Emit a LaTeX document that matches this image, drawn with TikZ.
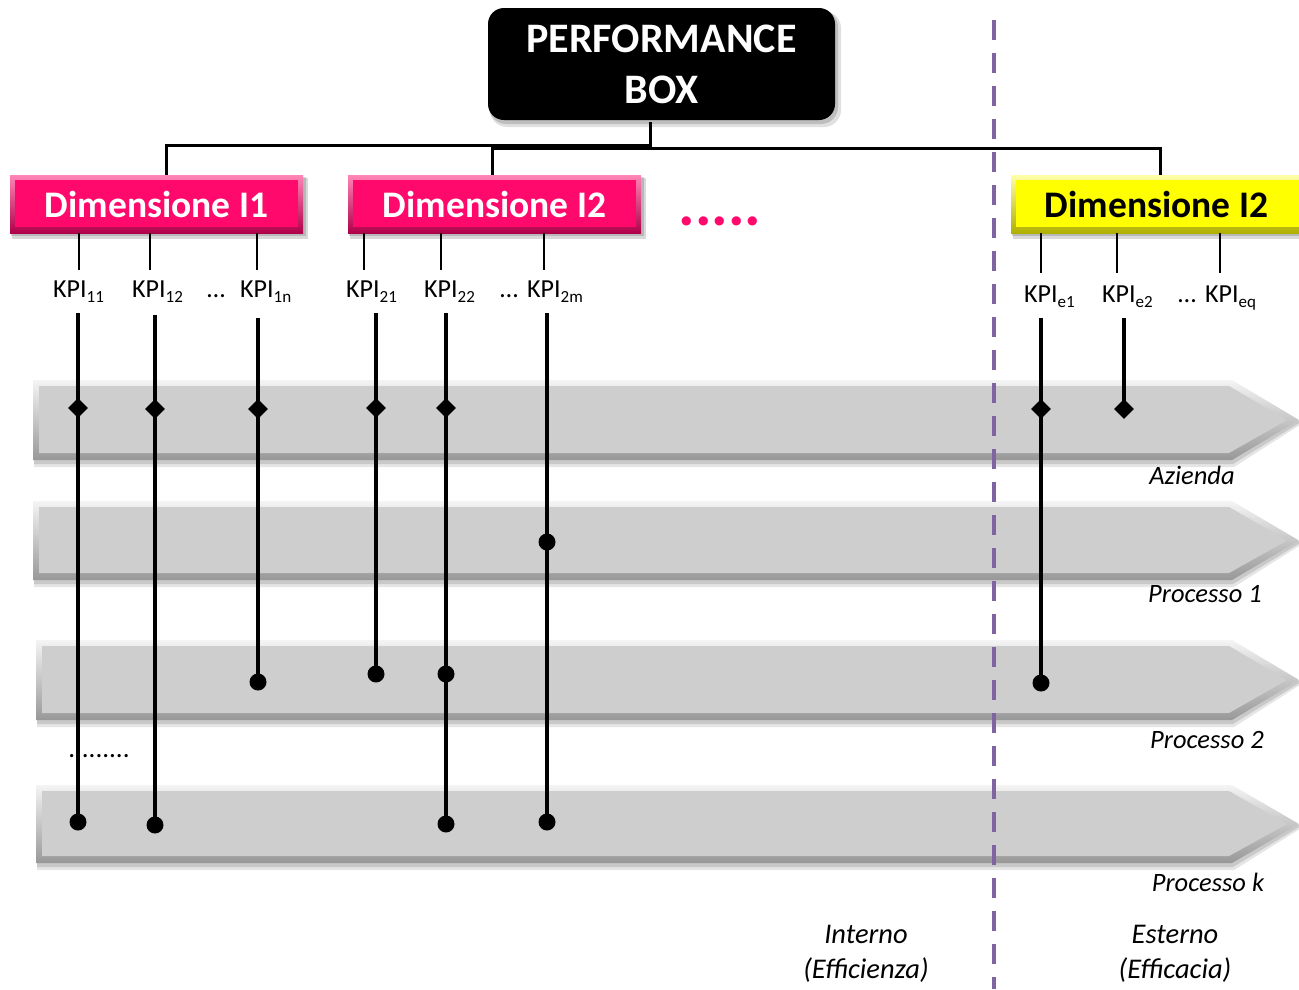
\documentclass[tikz,border=0pt]{standalone}
\usepackage{fontspec}
\setmainfont{Carlito}
\usetikzlibrary{shapes.geometric}
\definecolor{pinkD}{HTML}{FF0A6C}
\definecolor{pinkL}{HTML}{FF86B6}
\definecolor{pinkS}{HTML}{B0004A}
\definecolor{yelD}{HTML}{FFFF00}
\definecolor{yelL}{HTML}{FFFFA8}
\definecolor{yelS}{HTML}{B0B000}
\definecolor{greyD}{HTML}{CECECE}
\definecolor{greyL}{HTML}{F4F4F4}
\definecolor{greyS}{HTML}{989898}
\definecolor{purp}{HTML}{8064A2}
\newcommand\procArrow[3]{%
  \fill[black,opacity=0.10] (#1+1,#2+3) -- (1234,#2+3) -- (1303,{(#2+#3)/2+3}) -- (1234,#3+7) -- (#1+1,#3+7) -- cycle;
  \fill[black,opacity=0.12] (#1+1,#2+2) -- (1233,#2+2) -- (1301,{(#2+#3)/2+2}) -- (1233,#3+4) -- (#1+1,#3+4) -- cycle;
  \shade[top color=greyL,bottom color=greyS] (#1,#2) -- (1232,#2) -- (1299,{(#2+#3)/2}) -- (1232,#3) -- (#1,#3) -- cycle;
  \fill[greyD] (#1+6,#2+6) -- (1229,#2+6) -- (1287,{(#2+#3)/2}) -- (1229,#3-7) -- (#1+6,#3-7) -- cycle;
}
\newcommand\bevelBox[7]{% x1 y1 x2 y2 light main dark
  \fill[black,opacity=0.15] (#1+2,#2+3) rectangle (#3+5,#4+6);
  \fill[black,opacity=0.15] (#1+1,#2+2) rectangle (#3+3,#4+3);
  \shade[top color=#5,bottom color=#7] (#1,#2) rectangle (#3,#4);
  \fill[#6] (#1+5,#2+5) rectangle (#3-5,#4-6);
}
\newcommand\kpi[1]{KPI\raisebox{-5pt}{\fontsize{17}{17}\selectfont #1}}
\tikzset{
  tree/.style={line width=3pt,black},
  thinline/.style={line width=1.4pt,black},
  kline/.style={line width=4pt,black},
  diam/.style={diamond,fill=black,minimum size=20pt,inner sep=0pt},
  dotm/.style={circle,fill=black,minimum size=17pt,inner sep=0pt},
  kpilab/.style={anchor=base west,inner sep=0pt,font=\fontsize{26}{30}\selectfont},
  proclab/.style={inner sep=0pt,font=\fontsize{26.5}{30}\selectfont\itshape},
  dimtext/.style={minimum width=293pt,minimum height=58pt,inner sep=0pt,font=\fontsize{37.5}{40}\selectfont\bfseries},
}
\begin{document}
\begin{tikzpicture}[x=1pt,y=-1pt]
\useasboundingbox (0,0) rectangle (1299,989);
\clip (0,0) rectangle (1299,989);
\fill[white] (0,0) rectangle (1299,989);

% process arrows
\procArrow{33}{380}{460}
\procArrow{33}{501}{580}
\procArrow{36}{640}{720}
\procArrow{36}{785}{863}

\node[proclab] (az) at (1192,475) {Azienda};
\node[proclab] (p1) at (1205,594) {Processo 1};
\node[proclab] (p2) at (1207,740) {Processo 2};
\node[proclab] (pk) at (1208,882) {Processo k};
\node[inner sep=0pt,anchor=base,font=\fontsize{27}{30}\selectfont] (dots) at (99,757) {.........};

\node[align=center,inner sep=0pt,font=\fontsize{28.5}{35}\selectfont\itshape] (int) at (866,954) {Interno\\(Efficienza)};
\node[align=center,inner sep=0pt,font=\fontsize{28.5}{35}\selectfont\itshape] (est) at (1175,954) {Esterno\\(Efficacia)};

% dashed divider
\coordinate (vt) at (994,20);
\coordinate (vb) at (994,989);
\draw[purp,line width=3.5pt,dash pattern=on 20pt off 13pt] (vt) -- (vb);

% performance box
\fill[black,opacity=0.12,rounded corners=17pt] (490,11) rectangle (841,127);
\fill[black,opacity=0.15,rounded corners=17pt] (489,10) rectangle (838,124);
\node[fill=black,rounded corners=16pt,minimum width=347pt,minimum height=112pt,inner sep=0pt,
  text=white,align=center,font=\fontsize{42}{51}\selectfont\bfseries] (pb) at (661.5,64) {PERFORMANCE\\BOX};

% dimension boxes
\bevelBox{10}{175}{303}{233}{pinkL}{pinkD}{pinkS}
\bevelBox{348}{175}{641}{233}{pinkL}{pinkD}{pinkS}
\bevelBox{1011}{175}{1305}{233}{yelL}{yelD}{yelS}
\node[dimtext,text=white] (D1) at (156.5,204) {Dimensione I1};
\node[dimtext,text=white] (D2) at (494.5,204) {Dimensione I2};
\node[dimtext,text=black] (D3) at (1156.5,204) {Dimensione I2};

\node[inner sep=0pt,anchor=base,text=pinkD,font=\fontsize{62}{64}\selectfont\bfseries] (more) at (720,225) {.....};

% tree connectors
\coordinate (j0) at (650,122);
\coordinate (jl) at (650,145);
\coordinate (jr) at (650,148);
\draw[tree] (j0) -- (jr);
\draw[tree] (jl) -| ([xshift=9.5pt]D1.north);
\draw[tree] (jr) -| ([xshift=-2.5pt]D2.north);
\draw[tree] (jr) -| ([xshift=3.5pt]D3.north);

% thin KPI connectors
\foreach \nm/\x/\bx/\ey in {u11/79/D1/270,u12/150/D1/270,u1n/257/D1/270,u21/364/D2/270,u22/441/D2/270,u2m/544/D2/270,ue1/1041/D3/273,ue2/1117/D3/273,ueq/1220/D3/273}{
  \coordinate (\nm) at (\x,\ey);
  \draw[thinline] (\bx.south -| \nm) -- (\nm);
}

% KPI labels
\node[kpilab] (k11) at (53,297) {\kpi{11}};
\node[kpilab] (k12) at (132,297) {\kpi{12}};
\node[kpilab] (e1) at (207,297) {…};
\node[kpilab] (k1n) at (240,297) {\kpi{1n}};
\node[kpilab] (k21) at (346,297) {\kpi{21}};
\node[kpilab] (k22) at (424,297) {\kpi{22}};
\node[kpilab] (e2) at (500,297) {…};
\node[kpilab] (k2m) at (527,297) {\kpi{2m}};
\node[kpilab] (ke1) at (1024,302) {\kpi{e1}};
\node[kpilab] (ke2) at (1102,302) {\kpi{e2}};
\node[kpilab] (e3) at (1178,302) {…};
\node[kpilab] (keq) at (1205,302) {\kpi{eq}};

% thick KPI lines and markers
\coordinate (t11) at (78,313);
\coordinate (t12) at (155,315);
\coordinate (t1n) at (258,318);
\coordinate (t21) at (376,313);
\coordinate (t22) at (446,313);
\coordinate (t2m) at (547,313);
\coordinate (te1) at (1041,318);
\coordinate (te2) at (1124,318);

\coordinate (c11) at (78,822);
\coordinate (c12) at (155,825);
\coordinate (c1n) at (258,682);
\coordinate (c21) at (376,674);
\coordinate (c22) at (446,824);
\coordinate (c2m) at (547,822);
\coordinate (ce1) at (1041,683);
\coordinate (ce2) at (1124,409);

\foreach \a in {11,12,1n,21,22,2m,e1,e2}{
  \draw[kline] (t\a) -- (c\a);
}

\node[diam] (d11) at (78,408) {};
\node[diam] (d12) at (155,409) {};
\node[diam] (d1n) at (258,409) {};
\node[diam] (d21) at (376,408) {};
\node[diam] (d22) at (446,408) {};
\node[diam] (de1) at (1041,409) {};
\node[diam] (de2) at (1124,409) {};

\node[dotm] (m11) at (c11) {};
\node[dotm] (m12) at (c12) {};
\node[dotm] (m1n) at (c1n) {};
\node[dotm] (m21) at (c21) {};
\node[dotm] (m22a) at (446,674) {};
\node[dotm] (m22) at (c22) {};
\node[dotm] (m2ma) at (547,542) {};
\node[dotm] (m2m) at (c2m) {};
\node[dotm] (me1) at (ce1) {};
\end{tikzpicture}
\end{document}
